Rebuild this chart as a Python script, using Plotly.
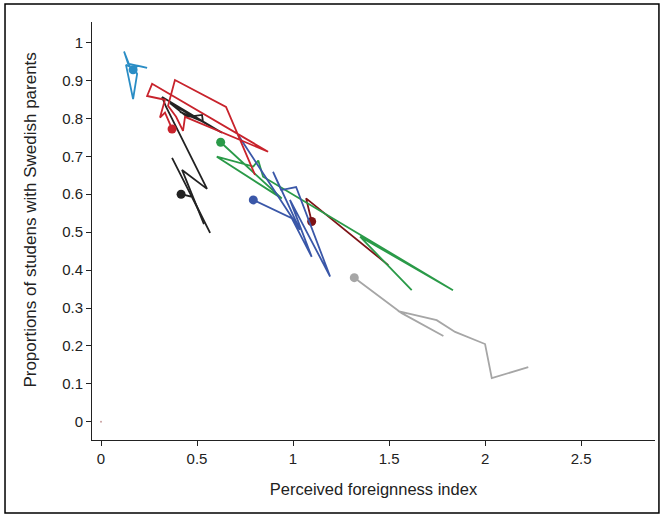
import plotly.graph_objects as go

# Trajectories (x = perceived foreignness index, y = proportion with Swedish parents);
# the first point of each series is the starting dot.
lightblue_x = [0.167, 0.193, 0.240, 0.141, 0.120, 0.151, 0.130, 0.167, 0.188, 0.177]
lightblue_y = [0.928, 0.939, 0.933, 0.944, 0.976, 0.936, 0.941, 0.851, 0.917, 0.928]

red_x = [0.370, 0.333, 0.307, 0.333, 0.240, 0.266, 0.870, 0.4375, 0.427, 0.391, 0.349, 0.385, 0.651, 0.802]
red_y = [0.772, 0.815, 0.802, 0.849, 0.859, 0.891, 0.712, 0.804, 0.767, 0.804, 0.833, 0.901, 0.830, 0.651]

black_x = [0.417, 0.474, 0.568, 0.370, None, 0.536, 0.422, 0.552, 0.339, 0.318, 0.630, 0.359, 0.448, 0.526, 0.531, 0.411]
black_y = [0.600, 0.593, 0.498, 0.696, None, 0.521, 0.664, 0.614, 0.830, 0.856, 0.762, 0.840, 0.804, 0.809, 0.791, 0.817]

green_x = [0.623, 0.941, 0.603, 0.793, 0.819, 0.844, 1.833, 1.349, 1.618]
green_y = [0.737, 0.589, 0.699, 0.673, 0.689, 0.646, 0.347, 0.488, 0.347]

blue_x = [0.793, 0.993, 1.097, 0.984, 1.193, 1.016, 0.938, 0.896, 1.036, 0.714]
blue_y = [0.585, 0.537, 0.435, 0.585, 0.383, 0.619, 0.611, 0.659, 0.506, 0.756]

darkred_x = [1.097, 1.068, 1.496]
darkred_y = [0.528, 0.589, 0.413]

grey_x = [1.319, 1.566, 1.783, 1.547, 1.748, 1.844, 2.000, 2.035, 2.225]
grey_y = [0.380, 0.286, 0.226, 0.292, 0.268, 0.237, 0.205, 0.115, 0.144]

origin_x = [0.0]
origin_y = [0.0]

x_ticks = [0, 0.5, 1, 1.5, 2, 2.5]
x_ticklabels = ["0", "0.5", "1", "1.5", "2", "2.5"]
y_ticks = [0, 0.1, 0.2, 0.3, 0.4, 0.5, 0.6, 0.7, 0.8, 0.9, 1]
y_ticklabels = ["0", "0.1", "0.2", "0.3", "0.4", "0.5", "0.6", "0.7", "0.8", "0.9", "1"]

x_title = "Perceived foreignness index"
y_title = "Proportions of studens with Swedish parents"

series = [
    (grey_x, grey_y, "#a6a6a6"),
    (darkred_x, darkred_y, "#7d1316"),
    (green_x, green_y, "#2a9a48"),
    (blue_x, blue_y, "#3a57a8"),
    (black_x, black_y, "#222222"),
    (red_x, red_y, "#c8232c"),
    (lightblue_x, lightblue_y, "#2a8dc5"),
]

fig = go.Figure()
for xs, ys, col in series:
    fig.add_trace(go.Scatter(x=xs, y=ys, mode="lines",
                             line=dict(color=col, width=1.8),
                             hoverinfo="skip", showlegend=False))
    fig.add_trace(go.Scatter(x=[xs[0]], y=[ys[0]], mode="markers",
                             marker=dict(color=col, size=9),
                             hoverinfo="skip", showlegend=False))

fig.add_trace(go.Scatter(x=origin_x, y=origin_y, mode="markers",
                         marker=dict(color="#c9a0a0", size=2),
                         hoverinfo="skip", showlegend=False))

font_family = "Liberation Sans, Arial, sans-serif"
fig.update_layout(
    width=664, height=517,
    margin=dict(l=92, r=9, t=22, b=77),
    paper_bgcolor="white", plot_bgcolor="white",
    font=dict(family=font_family, size=15, color="#222222"),
    xaxis=dict(range=[-0.047, 2.885], tickvals=x_ticks, ticktext=x_ticklabels,
               showgrid=False, zeroline=False, showline=True, linecolor="#222222",
               linewidth=1, ticks="outside", ticklen=5, tickcolor="#222222",
               title=dict(text=x_title, standoff=17, font=dict(size=16.5))),
    yaxis=dict(range=[-0.048, 1.054], tickvals=y_ticks, ticktext=y_ticklabels,
               showgrid=False, zeroline=False, showline=True, linecolor="#222222",
               linewidth=1, ticks="outside", ticklen=5, tickcolor="#222222"),
    annotations=[dict(text=y_title, xref="paper", yref="paper",
                      x=-0.110, y=0.525, textangle=-90, showarrow=False,
                      xanchor="center", yanchor="middle",
                      font=dict(size=17, color="#222222"))],
    shapes=[dict(type="rect", xref="paper", yref="paper",
                 x0=-0.1545, x1=1.007, y0=-0.1746, y1=1.043,
                 line=dict(color="black", width=1.5), fillcolor="rgba(0,0,0,0)")],
)

fig.write_html("out.html", config={"displayModeBar": False},
               post_script="document.body.style.margin='0';document.body.style.overflow='hidden';")
